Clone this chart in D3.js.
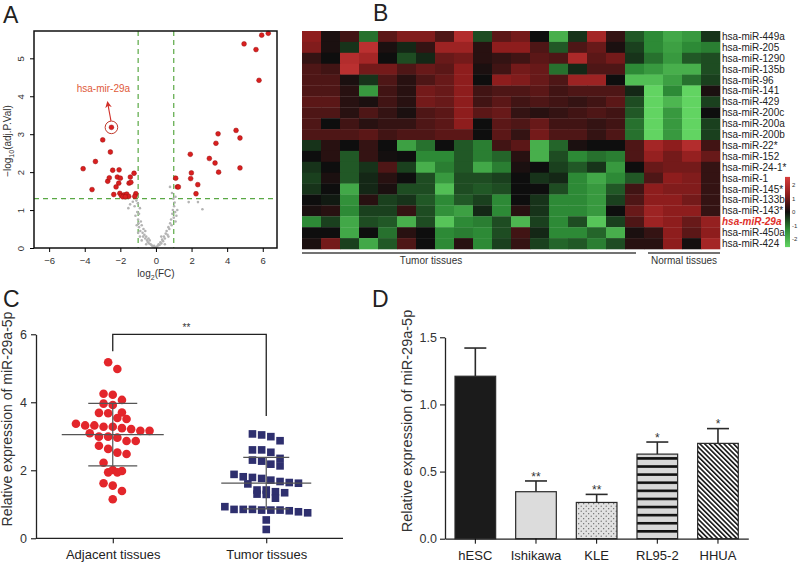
<!DOCTYPE html>
<html><head><meta charset="utf-8">
<script src="https://cdn.jsdelivr.net/npm/d3@7/dist/d3.min.js"></script>
<style>body{margin:0;background:#fff}svg{display:block;font-family:"Liberation Sans",Arial,sans-serif}</style>
</head><body><svg id="c" width="800" height="563"></svg>
<script>
// ---------------- DATA ----------------
// Panel A: volcano plot  [log2FC, -log10(adj.P)]
const volcanoDown = [[-2.50,3.18],[-2.99,2.85],[-2.56,2.53],[-3.40,2.28],[-4.09,2.09],[-2.43,2.05],[-2.07,2.06],[-1.23,1.97],[-1.44,1.87],[-2.71,1.76],[-2.62,1.85],[-2.17,1.87],[-2.00,1.84],[-2.09,1.71],[-1.51,1.71],[-1.41,1.73],[-2.24,1.61],[-3.59,1.54],[-2.37,1.41],[-2.03,1.44],[-1.94,1.38],[-1.79,1.40],[-1.64,1.42],[-1.53,1.36],[-1.13,1.43],[-1.19,1.36],[-1.86,1.35],[-1.72,1.35]];
const volcanoUp = [[6.31,5.66],[5.94,5.61],[4.95,5.38],[5.62,5.23],[5.79,4.42],[3.49,3.01],[4.50,3.10],[4.72,2.90],[3.37,2.76],[1.93,2.47],[3.00,2.36],[3.32,2.24],[4.72,2.11],[3.52,2.00],[1.99,1.98],[1.95,1.83],[1.11,1.84],[1.20,1.61],[1.26,1.61],[2.35,1.67],[2.25,1.43]];
const volcanoNS = [[-1.55,1.05],[-1.45,1.15],[-1.30,1.22],[-1.20,1.10],[-1.10,1.25],[-1.05,0.95],[-1.15,0.85],[-1.00,0.75],[-0.95,0.90],[-0.90,1.05],[-1.08,0.60],[-0.95,0.55],[-0.85,0.70],[-0.88,0.45],[-0.80,0.60],[-0.75,0.40],[-0.70,0.50],[-0.72,0.30],[-0.65,0.35],[-0.60,0.25],[-0.55,0.30],[-0.50,0.20],[-0.45,0.15],[-0.42,0.25],[-0.38,0.12],[-0.30,0.10],[-0.25,0.08],[-0.20,0.05],[-0.15,0.03],[-0.10,0.06],[-0.05,0.02],[-0.60,0.45],[-0.90,0.30],[-1.00,0.40],[-0.55,0.10],[-0.35,0.20],[-0.80,0.20],[-1.02,1.18],[-0.98,0.65],
 [0.05,0.03],[0.10,0.06],[0.15,0.10],[0.20,0.08],[0.25,0.15],[0.30,0.12],[0.35,0.22],[0.40,0.18],[0.45,0.30],[0.50,0.25],[0.55,0.38],[0.60,0.45],[0.65,0.35],[0.70,0.55],[0.75,0.50],[0.80,0.65],[0.85,0.75],[0.88,0.60],[0.92,0.90],[0.95,1.00],[1.00,0.80],[1.02,1.10],[1.05,1.20],[1.08,0.95],[1.10,1.35],[0.98,1.30],[1.10,0.70],[1.15,0.85],[1.20,1.00],[0.90,1.45],[0.79,1.61],[0.70,0.30],[0.50,0.10],[0.30,0.30],[1.84,1.21],[2.61,1.02],[2.36,1.21]];
const volcanoXTicks = [-6,-4,-2,0,2,4,6];
const volcanoYTicks = [0,1,2,3,4,5];
const highlightMir = "hsa-mir-29a";
const highlightPoint = [-2.50,3.18];

// Panel B: heatmap
const heatRows = ["hsa-miR-449a","hsa-miR-205","hsa-miR-1290","hsa-miR-135b","hsa-miR-96","hsa-miR-141","hsa-miR-429","hsa-miR-200c","hsa-miR-200a","hsa-miR-200b","hsa-miR-22*","hsa-miR-152","hsa-miR-24-1*","hsa-miR-1","hsa-miR-145*","hsa-miR-133b","hsa-miR-143*","hsa-miR-29a","hsa-miR-450a","hsa-miR-424"];
const heatGroups = ["Tumor tissues","Normal tissues"];
const heatGroupSizes = [17,5];
const heatValues = [
 [1.0,0.1,0.4,-0.8,0.6,0.9,0.9,0.5,1.5,-0.5,0.6,0.8,0.0,-1.5,-0.3,1.3,0.3,-0.6,-1.0,-1.4,-1.2,-0.3],
 [0.9,0.1,-0.3,1.6,0.1,-0.2,0.3,1.2,1.2,0.2,1.0,1.0,0.5,-0.6,0.5,0.7,0.1,-0.4,-1.0,-1.3,-1.0,-0.9],
 [0.3,0.0,1.5,1.3,0.0,-0.5,-0.2,0.7,0.8,0.2,0.3,0.4,0.6,0.5,1.4,0.6,0.8,-0.3,-0.8,-1.2,-0.6,-0.5],
 [0.5,0.4,1.6,0.8,0.8,0.5,0.7,0.6,1.0,0.1,0.4,0.8,0.7,-0.8,-0.2,0.5,0.5,-1.0,-1.2,-1.5,-1.5,-0.5],
 [0.5,0.5,0.1,-0.3,0.5,0.2,0.5,0.7,1.0,0.0,1.0,0.9,0.7,0.5,1.2,1.2,0.0,-1.7,-1.7,-1.3,-0.8,-0.4],
 [0.5,0.5,0.2,-1.2,0.4,0.2,0.8,0.7,1.0,0.4,0.5,0.5,0.6,0.4,0.5,0.5,0.5,-0.2,-2.0,-1.0,-2.0,0.1],
 [0.6,0.6,0.2,0.1,0.4,0.2,0.8,0.7,1.0,0.4,0.6,0.4,0.5,0.4,0.3,0.4,0.6,-0.5,-2.0,-1.6,-2.0,-0.4],
 [0.5,0.5,0.2,0.5,0.3,0.1,0.5,0.6,1.0,0.6,0.7,0.3,0.2,0.3,0.4,0.5,0.4,-0.6,-2.0,-1.2,-2.0,0.0],
 [0.5,0.0,0.4,0.2,0.3,0.3,0.5,0.6,1.0,0.0,0.6,0.5,0.7,0.4,0.4,0.3,0.4,-0.8,-2.0,-1.2,-2.0,-0.4],
 [0.5,0.5,0.5,0.6,0.4,0.5,0.5,0.6,0.6,0.0,0.6,0.3,0.8,0.5,0.5,0.3,0.5,-0.8,-2.0,-1.2,-2.0,-0.4],
 [-0.3,0.2,0.0,0.3,0.0,-1.3,-0.8,0.0,-0.6,-0.9,0.4,0.6,-1.5,-0.7,0.1,0.0,0.0,0.5,1.3,1.0,1.5,0.4],
 [0.0,0.2,-0.6,0.3,0.05,0.0,-1.0,-1.0,-0.6,-0.9,-0.7,0.2,-1.5,-0.5,-1.0,-0.8,-0.9,0.5,1.1,0.8,1.1,0.7],
 [-0.3,0.0,-0.6,-0.3,0.5,-0.4,-1.5,-0.9,-0.6,-1.4,-0.9,0.1,0.0,-0.4,-0.6,-0.3,-1.2,0.0,0.7,0.8,0.8,0.3],
 [-0.4,0.1,-0.6,-0.2,0.2,0.0,-0.5,-1.2,-0.5,-0.5,-0.4,0.0,-0.3,-0.2,-1.0,-1.4,-1.0,-0.6,0.5,1.0,0.9,0.3],
 [-0.3,0.0,-1.4,-0.2,0.1,-0.5,-0.5,-1.7,-0.5,-0.6,-0.5,0.0,0.0,-0.5,-1.0,-1.2,-0.6,0.4,1.0,0.9,0.9,0.3],
 [0.0,-0.1,-1.1,0.2,-0.4,-0.3,-0.6,-1.0,-0.6,-0.4,-1.0,0.0,-0.3,-1.0,-1.0,-1.2,-0.4,0.5,1.0,1.0,0.8,0.3],
 [0.1,0.2,-1.0,-0.4,-0.4,0.3,-0.5,-1.1,-1.3,-0.2,-1.0,0.2,-0.3,-1.0,-1.0,-1.2,0.0,0.7,1.2,1.0,1.0,0.3],
 [-1.0,-0.4,-1.4,-0.5,-0.6,-1.5,-0.5,-1.8,-1.0,-0.9,-0.5,-1.6,-0.4,-1.0,-0.5,-1.8,-0.4,0.5,1.2,1.0,0.7,1.1],
 [0.0,0.0,-1.4,0.0,-0.8,0.2,0.0,-1.0,-0.9,-1.0,-0.5,0.4,-0.2,-1.0,-1.0,-0.7,-1.5,0.1,0.3,1.0,0.6,1.0],
 [0.1,0.8,-0.4,-1.4,-0.6,0.5,0.0,-1.0,0.2,-1.0,-0.4,0.3,-0.4,-0.7,-0.6,-0.9,-0.5,0.2,0.2,1.0,0.05,1.3]
];
const heatLegendTicks = [2,1,0,-1,-2];

// Panel C: scatter dot plot
const groupsC = ["Adjacent tissues","Tumor tissues"];
const adjacentVals = [5.18,4.98,4.25,4.22,4.07,3.92,3.96,3.69,3.68,3.70,3.54,3.51,3.37,3.32,3.28,3.21,3.16,3.16,3.24,3.28,3.32,3.09,2.99,2.96,2.99,2.86,2.86,2.72,2.48,2.52,2.63,2.22,1.98,1.94,1.94,2.01,1.62,1.55,1.39,1.15];
const tumorVals = [3.04,2.99,3.07,2.87,2.60,2.53,2.60,2.30,2.18,2.13,2.27,2.35,1.79,1.71,1.64,1.60,1.62,1.67,1.88,1.76,1.81,1.42,1.34,1.29,1.18,1.30,1.37,1.42,0.85,0.85,0.83,0.75,0.81,0.83,0.78,0.83,0.85,0.93,0.54,0.26];
const yTicksC = [0,2,4,6];
const sigC = "**";

// Panel D: bar chart
const cellLines = ["hESC","Ishikawa","KLE","RL95-2","HHUA"];
const cellMeans = [1.21,0.35,0.27,0.63,0.71];
const cellErr = [0.21,0.08,0.06,0.09,0.11];
const cellSig = ["","**","**","*","*"];
const yTicksD = [0,0.5,1.0,1.5];

// ---------------- DRAW ----------------
const svg = d3.select("#c");
svg.append("rect").attr("width",800).attr("height",563).attr("fill","#fff");
const defs = svg.append("defs");

function panelLetter(t,x,y){svg.append("text").attr("x",x).attr("y",y).attr("font-size",23).attr("fill","#222").text(t);}
panelLetter("A",3,23); panelLetter("B",373,21); panelLetter("C",3,307); panelLetter("D",372,307);

// ===== Panel A =====
const xA = d3.scaleLinear().domain([-6.85,6.8]).range([34,277]);
const yA = d3.scaleLinear().domain([0,5.72]).range([248,31]);
const gA = svg.append("g");
const green = "#5aa845";
gA.append("line").attr("x1",xA(-1)).attr("x2",xA(-1)).attr("y1",31).attr("y2",248).attr("stroke",green).attr("stroke-width",1.2).attr("stroke-dasharray","5,4");
gA.append("line").attr("x1",xA(1)).attr("x2",xA(1)).attr("y1",31).attr("y2",248).attr("stroke",green).attr("stroke-width",1.2).attr("stroke-dasharray","5,4");
gA.append("line").attr("x1",34).attr("x2",277).attr("y1",yA(1.3)).attr("y2",yA(1.3)).attr("stroke",green).attr("stroke-width",1.2).attr("stroke-dasharray","5,4");
gA.selectAll(".ns").data(volcanoNS).join("circle").attr("cx",d=>xA(d[0])).attr("cy",d=>yA(d[1])).attr("r",1.3).attr("fill","#b4b4b4");
gA.selectAll(".sig").data(volcanoDown.concat(volcanoUp)).join("circle").attr("cx",d=>xA(d[0])).attr("cy",d=>yA(d[1])).attr("r",2.4).attr("fill","#d91f1f").attr("stroke","#9a1111").attr("stroke-width",0.5);
gA.append("rect").attr("x",34).attr("y",31).attr("width",243).attr("height",217).attr("fill","none").attr("stroke","#111").attr("stroke-width",1.5);
const axA = gA.append("g").attr("transform","translate(0,248)").call(d3.axisBottom(xA).tickValues(volcanoXTicks).tickFormat(d3.format("d")).tickSize(4).tickSizeOuter(0));
axA.select(".domain").remove();
axA.selectAll("text").attr("font-size",9.5).attr("fill","#333").attr("dy","0.9em");
const ayA = gA.append("g").attr("transform","translate(34,0)").call(d3.axisLeft(yA).tickValues(volcanoYTicks).tickFormat(d3.format("d")).tickSize(4).tickSizeOuter(0));
ayA.select(".domain").remove();
ayA.selectAll("text").attr("font-size",9.5).attr("fill","#333").attr("x",0).attr("dy",0).attr("text-anchor","middle")
  .attr("transform","translate(-10,0) rotate(-90)");
const xtA = gA.append("text").attr("x",156).attr("y",277).attr("text-anchor","middle").attr("font-size",10).attr("fill","#333");
xtA.append("tspan").text("log");xtA.append("tspan").attr("font-size",7).attr("dy",3).text("2");xtA.append("tspan").attr("dy",-3).text("(FC)");
const ytA = gA.append("text").attr("transform","translate(11,141) rotate(-90)").attr("text-anchor","middle").attr("font-size",10).attr("fill","#333");
ytA.append("tspan").text("\u2212log");ytA.append("tspan").attr("font-size",7).attr("dy",3).text("10");ytA.append("tspan").attr("dy",-3).text("(adj.P.Val)");
// annotation
const hx = xA(highlightPoint[0]), hy = yA(highlightPoint[1]);
gA.append("circle").attr("cx",hx).attr("cy",hy).attr("r",6.3).attr("fill","none").attr("stroke","#c0392b").attr("stroke-width",1);
defs.append("marker").attr("id","arr").attr("viewBox","0 0 10 10").attr("refX",5).attr("refY",5).attr("markerWidth",6).attr("markerHeight",6).attr("orient","auto")
  .append("path").attr("d","M0,0 L10,5 L0,10 L3,5 Z").attr("fill","#d0302a");
gA.append("line").attr("x1",hx-0.5).attr("y1",hy-6.5).attr("x2",hx-3.5).attr("y2",hy-23).attr("stroke","#d0302a").attr("stroke-width",1.1).attr("marker-end","url(#arr)");
gA.append("text").attr("x",hx-8).attr("y",hy-35).attr("text-anchor","middle").attr("font-size",10).attr("fill","#e05a3a").text(highlightMir);

// ===== Panel B =====
const nCols = d3.sum(heatGroupSizes);
const xB = d3.scaleBand().domain(d3.range(nCols)).range([302,720]);
const yB = d3.scaleBand().domain(heatRows).range([31,249]);
const color = d3.scaleLinear().domain([-2,-1,0,1,2]).range(["#62d462","#2d8a36","#0e0e0e","#8e1d1d","#d83c3c"]).clamp(true);
const gB = svg.append("g");
heatValues.forEach((row,i)=>{
  gB.selectAll(null).data(row).join("rect").attr("x",(d,j)=>xB(j)).attr("y",yB(heatRows[i])).attr("width",xB.bandwidth()+0.3).attr("height",yB.bandwidth()+0.3).attr("fill",d=>color(d));
});
gB.selectAll(".rl").data(heatRows).join("text").attr("x",722).attr("y",d=>yB(d)+yB.bandwidth()/2).attr("dy","0.35em").attr("font-size",10)
  .attr("fill",d=>d==="hsa-miR-29a"?"#e0302a":"#222").attr("font-style",d=>d==="hsa-miR-29a"?"italic":"normal").attr("font-weight",d=>d==="hsa-miR-29a"?"bold":"normal").text(d=>d);
const tEnd = xB(heatGroupSizes[0]-1)+xB.bandwidth();
const lineY = 253;
gB.append("line").attr("x1",302).attr("x2",tEnd+11).attr("y1",lineY).attr("y2",lineY).attr("stroke","#444").attr("stroke-width",1.3);
gB.append("line").attr("x1",tEnd+23).attr("x2",720).attr("y1",lineY).attr("y2",lineY).attr("stroke","#444").attr("stroke-width",1.3);
gB.append("text").attr("x",431).attr("y",264).attr("text-anchor","middle").attr("font-size",10).attr("fill","#333").text(heatGroups[0]);
gB.append("text").attr("x",(tEnd+23+720)/2).attr("y",264).attr("text-anchor","middle").attr("font-size",10).attr("fill","#333").text(heatGroups[1]);
// legend
const yLeg = d3.scaleLinear().domain([-2,2]).range([239,185]);
const grad = defs.append("linearGradient").attr("id","lg").attr("x1",0).attr("y1",1).attr("x2",0).attr("y2",0);
d3.range(-2,2.01,0.5).forEach(v=>grad.append("stop").attr("offset",(v+2)/4).attr("stop-color",color(v)));
gB.append("rect").attr("x",785).attr("y",yLeg(2.6)).attr("width",5).attr("height",yLeg(-2.6)-yLeg(2.6)).attr("fill","url(#lg)");
gB.selectAll(".lt").data(heatLegendTicks).join("text").attr("x",792).attr("y",d=>yLeg(d)).attr("dy","0.35em").attr("font-size",6).attr("fill","#333").text(d=>d);

// ===== Panel C =====
const xC = d3.scalePoint().domain(groupsC).range([36,343]).padding(0.5);
const yC = d3.scaleLinear().domain([0,6]).range([538.3,334.3]);
const gC = svg.append("g");
function swarm(vals, cx, d, binPx){
  const s = vals.map(v=>({v})).sort((a,b)=>b.v-a.v);
  const out=[]; let grp=[];
  const flush=()=>{grp.forEach((p,i)=>{p.x=cx+(i-(grp.length-1)/2)*d; out.push(p);}); grp=[];};
  s.forEach(p=>{ if(grp.length && (yC(p.v)-yC(grp[0].v))>=binPx) flush(); grp.push(p);});
  flush(); return out;
}
const statLines = (vals,cx,mw,sw)=>{
  const m=d3.mean(vals), sd=d3.deviation(vals);
  gC.append("line").attr("x1",cx-mw).attr("x2",cx+mw).attr("y1",yC(m)).attr("y2",yC(m)).attr("stroke","#555").attr("stroke-width",1.2);
  [m+sd,m-sd].forEach(v=>gC.append("line").attr("x1",cx-sw).attr("x2",cx+sw).attr("y1",yC(v)).attr("y2",yC(v)).attr("stroke","#555").attr("stroke-width",1.2));
  gC.append("line").attr("x1",cx).attr("x2",cx).attr("y1",yC(m+sd)).attr("y2",yC(m-sd)).attr("stroke","#555").attr("stroke-width",1.2);
};
const adjPts = swarm(adjacentVals, xC(groupsC[0]), 9.2, 9);
const tumPts = swarm(tumorVals, xC(groupsC[1]), 9.2, 9);
gC.selectAll(".a").data(adjPts).join("circle").attr("cx",d=>d.x).attr("cy",d=>yC(d.v)).attr("r",4.3).attr("fill","#e3262b");
gC.selectAll(".t").data(tumPts).join("rect").attr("x",d=>d.x-3.8).attr("y",d=>yC(d.v)-3.8).attr("width",7.6).attr("height",7.6).attr("fill","#2e2f6e");
statLines(adjacentVals, xC(groupsC[0]), 51, 24.5);
statLines(tumorVals, xC(groupsC[1]), 45, 23);
const axC = gC.append("g").attr("transform","translate(0,538.3)").call(d3.axisBottom(xC).tickSize(5).tickSizeOuter(0));
axC.select(".domain").attr("d","M36,0H343").attr("stroke","#222").attr("stroke-width",1.3);
axC.selectAll("text").attr("font-size",13).attr("fill","#222").attr("dy","1.0em");
const ayC = gC.append("g").attr("transform","translate(36,0)").call(d3.axisLeft(yC).tickValues(yTicksC).tickFormat(d3.format("d")).tickSize(5).tickSizeOuter(0));
ayC.select(".domain").attr("stroke","#222").attr("stroke-width",1.3);
ayC.selectAll("text").attr("font-size",12.5).attr("fill","#333").attr("x",-9);
gC.append("text").attr("transform","translate(7,419) rotate(-90)").attr("dy","0.35em").attr("text-anchor","middle").attr("font-size",14).attr("fill","#333").text("Relative expression of miR-29a-5p");
// bracket
const bx1=xC(groupsC[0]), bx2=xC(groupsC[1]);
gC.append("path").attr("d",`M${bx1},${yC(5.5)}V${yC(6)}H${bx2}V${yC(3.6)}`).attr("fill","none").attr("stroke","#222").attr("stroke-width",1.3);
gC.append("text").attr("x",(bx1+bx2)/2-3).attr("y",yC(6)-3).attr("text-anchor","middle").attr("font-size",10).attr("fill","#333").text(sigC);

// ===== Panel D =====
const xD = d3.scaleBand().domain(cellLines).range([445,748.3]).paddingInner(0.33).paddingOuter(0.165);
const yD = d3.scaleLinear().domain([0,1.5]).range([538.7,337.3]);
const gD = svg.append("g");
// patterns
const pDots = defs.append("pattern").attr("id","pdots").attr("patternUnits","userSpaceOnUse").attr("width",5).attr("height",5);
pDots.append("rect").attr("width",5).attr("height",5).attr("fill","#e2e2e2");
pDots.append("circle").attr("cx",1.2).attr("cy",1.2).attr("r",0.6).attr("fill","#555");
pDots.append("circle").attr("cx",3.7).attr("cy",3.7).attr("r",0.6).attr("fill","#555");
const pH = defs.append("pattern").attr("id","phs").attr("patternUnits","userSpaceOnUse").attr("width",8).attr("height",8.1).attr("y",yD(0.63)+3);
pH.append("rect").attr("width",8).attr("height",8.1).attr("fill","#d8d8d8");
pH.append("rect").attr("width",8).attr("height",2.6).attr("fill","#111");
const pDg = defs.append("pattern").attr("id","pdg").attr("patternUnits","userSpaceOnUse").attr("width",3.4).attr("height",10).attr("patternTransform","rotate(-45)");
pDg.append("rect").attr("width",3.4).attr("height",10).attr("fill","#fff");
pDg.append("rect").attr("width",1.6).attr("height",10).attr("fill","#151515");
const fills = ["#1b1b1b","#dcdcdc","url(#pdots)","url(#phs)","url(#pdg)"];
const bw = xD.bandwidth();
cellLines.forEach((c,i)=>{
  const x = xD(c), cx = x+bw/2;
  const top = yD(cellMeans[i]+cellErr[i]);
  gD.append("line").attr("x1",cx).attr("x2",cx).attr("y1",yD(cellMeans[i])).attr("y2",top).attr("stroke","#2a2a2a").attr("stroke-width",1.6);
  gD.append("line").attr("x1",cx-11).attr("x2",cx+11).attr("y1",top).attr("y2",top).attr("stroke","#2a2a2a").attr("stroke-width",1.6);
  gD.append("rect").attr("x",x).attr("y",yD(cellMeans[i])).attr("width",bw).attr("height",yD(0)-yD(cellMeans[i])).attr("fill",fills[i]).attr("stroke","#2a2a2a").attr("stroke-width",1.2);
  if(cellSig[i]) gD.append("text").attr("x",cx).attr("y",top-2).attr("text-anchor","middle").attr("font-size",12).attr("fill","#333").attr("dy","0.55em").attr("transform",`translate(0,-5)`).text(cellSig[i]);
});
const axD = gD.append("g").attr("transform","translate(0,538.7)").call(d3.axisBottom(xD).tickSize(5).tickSizeOuter(0));
axD.select(".domain").attr("stroke","#222").attr("stroke-width",1.3);
axD.selectAll("text").attr("font-size",13).attr("fill","#222").attr("dy","1.0em");
const ayD = gD.append("g").attr("transform","translate(445,0)").call(d3.axisLeft(yD).tickValues(yTicksD).tickFormat(d3.format(".1f")).tickSize(5).tickSizeOuter(0));
ayD.select(".domain").attr("stroke","#222").attr("stroke-width",1.3);
ayD.selectAll("text").attr("font-size",12.5).attr("fill","#333");
gD.append("text").attr("transform","translate(407,421) rotate(-90)").attr("dy","0.35em").attr("text-anchor","middle").attr("font-size",14.5).attr("fill","#333").text("Relative expression of miR-29a-5p");
</script></body></html>
